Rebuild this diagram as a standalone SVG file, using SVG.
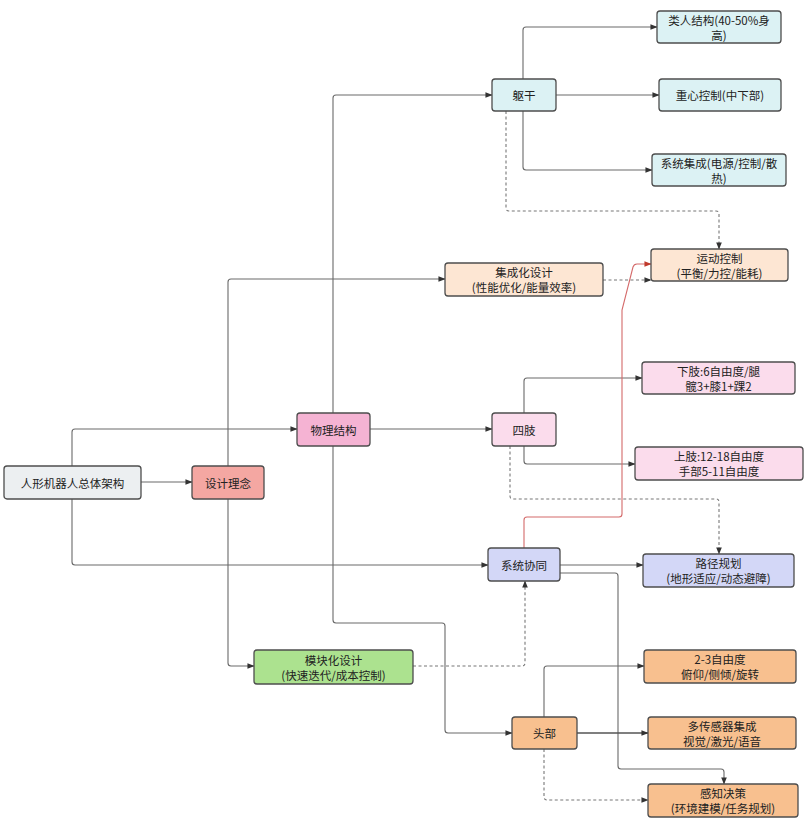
<svg xmlns="http://www.w3.org/2000/svg" width="807" height="823" viewBox="0 0 807 823">
<style>
.n rect{stroke:#4d4d4d;stroke-width:1.3}
.n text{font-family:"Noto Sans CJK SC","Noto Sans",sans-serif;font-size:11.5px;fill:#222;text-anchor:middle;dominant-baseline:central}
.c path{fill:none;stroke:#6a6a6a;stroke-width:1.1}
.c path.d{stroke-dasharray:3 2.5;stroke:#777}
.c path.r{stroke:#d46a6a}
.gray{fill:#eceff1}.sal{fill:#f4a7a2}.pk{fill:#f5b3d3}.lpk{fill:#fbdcec}.cy{fill:#dcf2f4}.pe{fill:#fde6d3}.lv{fill:#d3d7f7}.gr{fill:#ace28f}.or{fill:#f8c08f}
</style>
<defs>
<marker id="a" viewBox="0 0 8 8" refX="7.5" refY="4" markerWidth="7" markerHeight="7" markerUnits="userSpaceOnUse" orient="auto"><path d="M0,0.8 L8,4 L0,7.2 z" fill="#333"/></marker>
<marker id="ar" viewBox="0 0 8 8" refX="7.5" refY="4" markerWidth="7" markerHeight="7" markerUnits="userSpaceOnUse" orient="auto"><path d="M0,0.8 L8,4 L0,7.2 z" fill="#c0392b"/></marker>
</defs>
<rect width="807" height="823" fill="#fff"/>
<g class="c" id="connectors">
<path d="M141,482 H192" marker-end="url(#a)"/>
<path d="M72,466 V432 Q72,429 75,429 H297" marker-end="url(#a)"/>
<path d="M72,499 V562 Q72,565 75,565 H488" marker-end="url(#a)"/>
<path d="M228,466 V282 Q228,279 231,279 H445" marker-end="url(#a)"/>
<path d="M228,499 V663 Q228,666 231,666 H254" marker-end="url(#a)"/>
<path d="M333,413 V98 Q333,95 336,95 H492" marker-end="url(#a)"/>
<path d="M370,429 H492" marker-end="url(#a)"/>
<path d="M333,446 V620 Q333,623 336,623 H442 Q445,623 445,626 V730 Q445,733 448,733 H512" marker-end="url(#a)"/>
<path d="M523,79 V30 Q523,27 526,27 H657" marker-end="url(#a)"/>
<path d="M556,95 H659" marker-end="url(#a)"/>
<path d="M523,111 V167 Q523,170 526,170 H652" marker-end="url(#a)"/>
<path class="d" d="M506,111 V208 Q506,211 509,211 H716 Q719,211 719,214 V249" marker-end="url(#a)"/>
<path class="d" d="M603,280 H651" marker-end="url(#a)"/>
<path d="M524,413 V381 Q524,378 527,378 H642" marker-end="url(#a)"/>
<path d="M524,446 V461 Q524,464 527,464 H635" marker-end="url(#a)"/>
<path class="d" d="M510,446 V496 Q510,499 513,499 H716 Q719,499 719,502 V554" marker-end="url(#a)"/>
<path d="M560,565 H643" marker-end="url(#a)"/>
<path d="M560,573 H615 Q618,573 618,576 V766 Q618,769 621,769 H721 Q724,769 724,772 V784" marker-end="url(#a)"/>
<path class="r" d="M524,548 V520 Q524,517 527,517 H619 Q622,517 622,514 V310 L633,267 Q634,264 637,264 H651" marker-end="url(#ar)"/>
<path class="d" d="M413,666 H522 Q525,666 525,663 V581" marker-end="url(#a)"/>
<path d="M544,717 V669 Q544,666 547,666 H644" marker-end="url(#a)"/>
<path d="M577,733 H648" style="stroke-width:1.6;stroke:#555" marker-end="url(#a)"/>
<path class="d" d="M544,749 V797 Q544,800 547,800 H648" marker-end="url(#a)"/>
</g>
<g class="n" id="root"><rect class="gray" x="4" y="466" width="137" height="33" rx="3"/><text x="72.5" y="482.5">人形机器人总体架构</text></g>
<g class="n" id="design"><rect class="sal" x="192" y="466" width="72" height="33" rx="3"/><text x="228" y="482.5">设计理念</text></g>
<g class="n" id="phys"><rect class="pk" x="297" y="413" width="73" height="33" rx="3"/><text x="333.5" y="429.5">物理结构</text></g>
<g class="n" id="torso"><rect class="cy" x="492" y="79" width="64" height="32" rx="3"/><text x="524" y="95">躯干</text></g>
<g class="n" id="humanoid"><rect class="cy" x="657" y="11" width="124" height="32" rx="3"/><text x="719" y="19.5">类人结构(40-50%身</text><text x="719" y="35">高)</text></g>
<g class="n" id="cog"><rect class="cy" x="659" y="79" width="122" height="32" rx="3"/><text x="720" y="95">重心控制(中下部)</text></g>
<g class="n" id="sysint"><rect class="cy" x="652" y="154" width="134" height="32" rx="3"/><text x="719" y="162.5">系统集成(电源/控制/散</text><text x="719" y="178">热)</text></g>
<g class="n" id="motion"><rect class="pe" x="651" y="249" width="137" height="32" rx="3"/><text x="719.5" y="257.5">运动控制</text><text x="719.5" y="272.5">(平衡/力控/能耗)</text></g>
<g class="n" id="integ"><rect class="pe" x="445" y="263" width="158" height="33" rx="3"/><text x="524" y="272">集成化设计</text><text x="524" y="287">(性能优化/能量效率)</text></g>
<g class="n" id="limbs"><rect class="lpk" x="492" y="413" width="64" height="33" rx="3"/><text x="524" y="429.5">四肢</text></g>
<g class="n" id="lower"><rect class="lpk" x="642" y="362" width="153" height="32" rx="3"/><text x="718.5" y="370.5">下肢:6自由度/腿</text><text x="718.5" y="385.5">髋3+膝1+踝2</text></g>
<g class="n" id="upper"><rect class="lpk" x="635" y="447" width="168" height="33" rx="3"/><text x="719" y="456">上肢:12-18自由度</text><text x="719" y="471">手部5-11自由度</text></g>
<g class="n" id="sync"><rect class="lv" x="488" y="548" width="72" height="33" rx="3"/><text x="524" y="564.5">系统协同</text></g>
<g class="n" id="path"><rect class="lv" x="643" y="554" width="151" height="33" rx="3"/><text x="718.5" y="563">路径规划</text><text x="718.5" y="578">(地形适应/动态避障)</text></g>
<g class="n" id="modular"><rect class="gr" x="254" y="650" width="159" height="34" rx="3"/><text x="333.5" y="659.5">模块化设计</text><text x="333.5" y="674.5">(快速迭代/成本控制)</text></g>
<g class="n" id="head"><rect class="or" x="512" y="717" width="65" height="32" rx="3"/><text x="544.5" y="733">头部</text></g>
<g class="n" id="dof"><rect class="or" x="644" y="650" width="152" height="33" rx="3"/><text x="720" y="659">2-3自由度</text><text x="720" y="674">俯仰/侧倾/旋转</text></g>
<g class="n" id="sensor"><rect class="or" x="648" y="717" width="148" height="32" rx="3"/><text x="722" y="725.5">多传感器集成</text><text x="722" y="740.5">视觉/激光/语音</text></g>
<g class="n" id="percept"><rect class="or" x="648" y="784" width="150" height="33" rx="3"/><text x="723" y="792.5">感知决策</text><text x="723" y="807.5">(环境建模/任务规划)</text></g>
</svg>
